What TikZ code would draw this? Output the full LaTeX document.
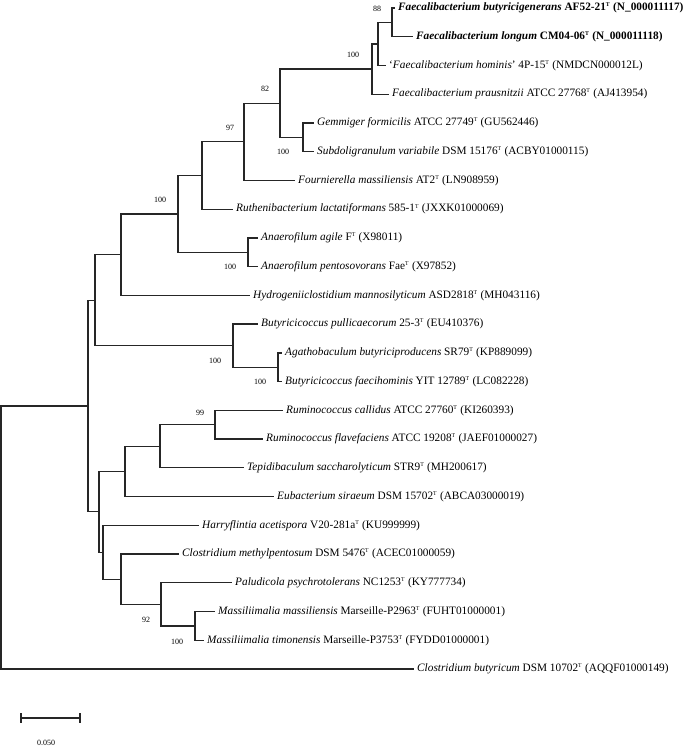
\documentclass[tikz,border=0pt]{standalone}
\usepackage{fontspec}
\setmainfont{Liberation Serif}
\newcommand{\Tsup}{\textsuperscript{\fontsize{5.8}{6}\selectfont T}}
\tikzset{
  br/.style={line width=1.3pt, line join=miter, line cap=rect, draw=black!85},
  tip/.style={anchor=west, inner xsep=4pt, inner ysep=0pt, font=\fontsize{11.3}{12}\selectfont},
  boot/.style={inner sep=0pt, font=\fontsize{8}{9}\selectfont},
}
\begin{document}
\begin{tikzpicture}[x=1pt,y=-1pt]
\useasboundingbox (0,0) rectangle (685,749);
% tips
\coordinate (t1) at (394,8.0);
\coordinate (t2) at (412,36.7);
\coordinate (t3) at (385,65.5);
\coordinate (t4) at (388,94.2);
\coordinate (t5) at (313,123.0);
\coordinate (t6) at (313,151.7);
\coordinate (t7) at (294,180.4);
\coordinate (t8) at (232,209.2);
\coordinate (t9) at (257,237.9);
\coordinate (t10) at (257,266.7);
\coordinate (t11) at (249,295.4);
\coordinate (t12) at (257,324.1);
\coordinate (t13) at (281,352.9);
\coordinate (t14) at (281,381.6);
\coordinate (t15) at (282,410.4);
\coordinate (t16) at (262,439.1);
\coordinate (t17) at (243,467.8);
\coordinate (t18) at (273,496.6);
\coordinate (t19) at (198,525.3);
\coordinate (t20) at (178,554.0);
\coordinate (t21) at (231,582.8);
\coordinate (t22) at (214,611.5);
\coordinate (t23) at (203,640.3);
\coordinate (t24) at (413,669.0);
% internal nodes
\coordinate (M) at (392,22.4);
\coordinate (L) at (378,43.9);
\coordinate (K) at (372,69.1);
\coordinate (J) at (303,137.4);
\coordinate (I) at (280,103.2);
\coordinate (H) at (244,141.8);
\coordinate (G) at (202,175.5);
\coordinate (AN) at (248,252.3);
\coordinate (F) at (178,213.9);
\coordinate (D) at (121,254.7);
\coordinate (V) at (278,367.3);
\coordinate (E) at (233,345.7);
\coordinate (B) at (95,300.2);
\coordinate (Q) at (215,424.8);
\coordinate (P) at (160,446.3);
\coordinate (N) at (125,471.4);
\coordinate (U) at (195,625.9);
\coordinate (T) at (161,604.4);
\coordinate (S) at (121,579.2);
\coordinate (O) at (103,552.3);
\coordinate (C) at (99,511.8);
\coordinate (A) at (88,406.0);
\coordinate (R) at (1,537.5);
% branches
\draw[br] (M) |- (t1); \draw[br] (M) |- (t2);
\draw[br] (L) |- (M);  \draw[br] (L) |- (t3);
\draw[br] (K) |- (L);  \draw[br] (K) |- (t4);
\draw[br] (J) |- (t5); \draw[br] (J) |- (t6);
\draw[br] (I) |- (K);  \draw[br] (I) |- (J);
\draw[br] (H) |- (I);  \draw[br] (H) |- (t7);
\draw[br] (G) |- (H);  \draw[br] (G) |- (t8);
\draw[br] (AN) |- (t9); \draw[br] (AN) |- (t10);
\draw[br] (F) |- (G);  \draw[br] (F) |- (AN);
\draw[br] (D) |- (F);  \draw[br] (D) |- (t11);
\draw[br] (V) |- (t13); \draw[br] (V) |- (t14);
\draw[br] (E) |- (t12); \draw[br] (E) |- (V);
\draw[br] (B) |- (D);  \draw[br] (B) |- (E);
\draw[br] (Q) |- (t15); \draw[br] (Q) |- (t16);
\draw[br] (P) |- (Q);  \draw[br] (P) |- (t17);
\draw[br] (N) |- (P);  \draw[br] (N) |- (t18);
\draw[br] (U) |- (t22); \draw[br] (U) |- (t23);
\draw[br] (T) |- (t21); \draw[br] (T) |- (U);
\draw[br] (S) |- (t20); \draw[br] (S) |- (T);
\draw[br] (O) |- (t19); \draw[br] (O) |- (S);
\draw[br] (C) |- (N);  \draw[br] (C) |- (O);
\draw[br] (A) |- (B);  \draw[br] (A) |- (C);
\draw[br] (R) |- (A);  \draw[br] (R) |- (t24);
% tip labels
\node[tip] (l1) at (t1) {\textbf{\textit{Faecalibacterium butyricigenerans} AF52-21\Tsup{} (N\_000011117)}};
\node[tip] (l2) at (t2) {\textbf{\textit{Faecalibacterium longum} CM04-06\Tsup{} (N\_000011118)}};
\node[tip] (l3) at (t3) {`\textit{Faecalibacterium hominis}' 4P-15\Tsup{} (NMDCN000012L)};
\node[tip] (l4) at (t4) {\textit{Faecalibacterium prausnitzii} ATCC 27768\Tsup{} (AJ413954)};
\node[tip] (l5) at (t5) {\textit{Gemmiger formicilis} ATCC 27749\Tsup{} (GU562446)};
\node[tip] (l6) at (t6) {\textit{Subdoligranulum variabile} DSM 15176\Tsup{} (ACBY01000115)};
\node[tip] (l7) at (t7) {\textit{Fournierella massiliensis} AT2\Tsup{} (LN908959)};
\node[tip] (l8) at (t8) {\textit{Ruthenibacterium lactatiformans} 585-1\Tsup{} (JXXK01000069)};
\node[tip] (l9) at (t9) {\textit{Anaerofilum agile} F\Tsup{} (X98011)};
\node[tip] (l10) at (t10) {\textit{Anaerofilum pentosovorans} Fae\Tsup{} (X97852)};
\node[tip] (l11) at (t11) {\textit{Hydrogeniiclostidium mannosilyticum} ASD2818\Tsup{} (MH043116)};
\node[tip] (l12) at (t12) {\textit{Butyricicoccus pullicaecorum} 25-3\Tsup{} (EU410376)};
\node[tip] (l13) at (t13) {\textit{Agathobaculum butyriciproducens} SR79\Tsup{} (KP889099)};
\node[tip] (l14) at (t14) {\textit{Butyricicoccus faecihominis} YIT 12789\Tsup{} (LC082228)};
\node[tip] (l15) at (t15) {\textit{Ruminococcus callidus} ATCC 27760\Tsup{} (KI260393)};
\node[tip] (l16) at (t16) {\textit{Ruminococcus flavefaciens} ATCC 19208\Tsup{} (JAEF01000027)};
\node[tip] (l17) at (t17) {\textit{Tepidibaculum saccharolyticum} STR9\Tsup{} (MH200617)};
\node[tip] (l18) at (t18) {\textit{Eubacterium siraeum} DSM 15702\Tsup{} (ABCA03000019)};
\node[tip] (l19) at (t19) {\textit{Harryflintia acetispora} V20-281a\Tsup{} (KU999999)};
\node[tip] (l20) at (t20) {\textit{Clostridium methylpentosum} DSM 5476\Tsup{} (ACEC01000059)};
\node[tip] (l21) at (t21) {\textit{Paludicola psychrotolerans} NC1253\Tsup{} (KY777734)};
\node[tip] (l22) at (t22) {\textit{Massiliimalia massiliensis} Marseille-P2963\Tsup{} (FUHT01000001)};
\node[tip] (l23) at (t23) {\textit{Massiliimalia timonensis} Marseille-P3753\Tsup{} (FYDD01000001)};
\node[tip] (l24) at (t24) {\textit{Clostridium butyricum} DSM 10702\Tsup{} (AQQF01000149)};
% bootstrap values
\node[boot] (bM) at (377,9) {88};
\node[boot] (bK) at (353,55) {100};
\node[boot] (bI) at (265,89) {82};
\node[boot] (bH) at (230,128) {97};
\node[boot] (bJ) at (283,152) {100};
\node[boot] (bF) at (160,200) {100};
\node[boot] (bAN) at (230,267) {100};
\node[boot] (bE) at (215,361) {100};
\node[boot] (bV) at (260,382) {100};
\node[boot] (bQ) at (200,413) {99};
\node[boot] (bT) at (146,620) {92};
\node[boot] (bU) at (177,642) {100};
% scale bar
\coordinate (s1) at (21,718);
\coordinate (s2) at (80,718);
\draw[br] (s1) -- (s2);
\draw[br] ([yshift=-4pt]s1) -- ([yshift=4pt]s1);
\draw[br] ([yshift=-4pt]s2) -- ([yshift=4pt]s2);
\node[boot] (sl) at (46,743) {0.050};
\end{tikzpicture}
\end{document}
